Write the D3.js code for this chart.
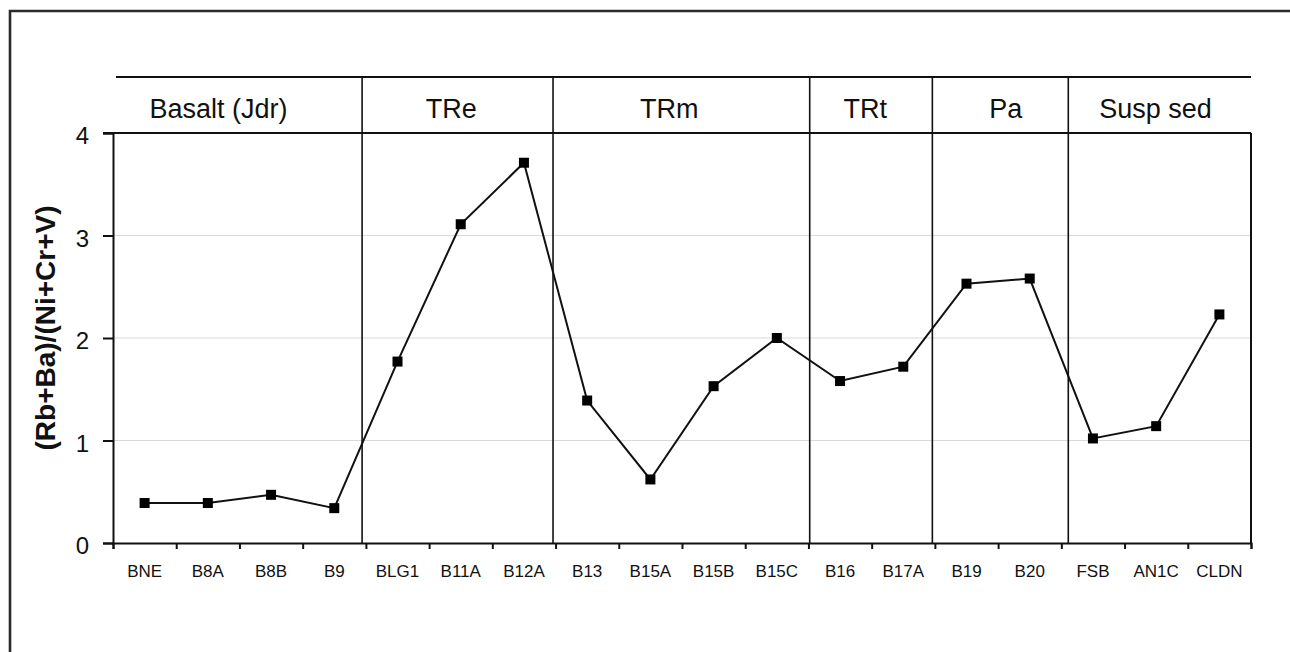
<!DOCTYPE html>
<html>
<head>
<meta charset="utf-8">
<script src="https://cdn.jsdelivr.net/npm/d3@7/dist/d3.min.js"></script>
<style>
  html, body { margin: 0; padding: 0; background: #fff; overflow: hidden; }
  svg { display: block; font-family: "Liberation Sans", Arial, sans-serif; }
</style>
</head>
<body>
<svg id="chart" width="1290" height="652"></svg>
<script>
// Samples, in order along the x axis
const categories = ["BNE", "B8A", "B8B", "B9", "BLG1", "B11A", "B12A", "B13", "B15A",
  "B15B", "B15C", "B16", "B17A", "B19", "B20", "FSB", "AN1C", "CLDN"];

// (Rb+Ba)/(Ni+Cr+V) ratio for each sample
const ratios = [0.39, 0.39, 0.47, 0.34, 1.77, 3.11, 3.71, 1.39, 0.62,
  1.53, 2.00, 1.58, 1.72, 2.53, 2.58, 1.02, 1.14, 2.23];

// Unit groups shown in the header band
const groupNames = ["Basalt (Jdr)", "TRe", "TRm", "TRt", "Pa", "Susp sed"];
// Label anchor of each group, in sample units from the left edge
const groupLabelAt = [1.67, 5.35, 8.8, 11.9, 14.12, 16.49];
// Vertical dividers between groups, in sample units from the left edge
const dividerAt = [3.94, 6.96, 11.02, 12.96, 15.11];

const yTicks = [0, 1, 2, 3, 4];
const yGrid = [1, 2, 3];

const svg = d3.select("#chart");

const plotLeft = 113, plotRight = 1251, plotTop = 133, plotBottom = 543, headerTop = 77;

const xPos = d3.scaleLinear().domain([0, categories.length]).range([plotLeft, plotRight]);
const xBand = d3.scaleBand().domain(categories).range([plotLeft, plotRight]);
const y = d3.scaleLinear().domain([0, 4]).range([plotBottom, plotTop]);

// Outer frame: top and left edges
svg.append("path")
  .attr("d", "M10,652 L10,11 L1290,11")
  .attr("fill", "none")
  .attr("stroke", "#2b2b2b")
  .attr("stroke-width", 2.6);

// Horizontal gridlines
svg.append("g")
  .selectAll("line")
  .data(yGrid)
  .join("line")
  .attr("x1", plotLeft).attr("x2", plotRight)
  .attr("y1", d => y(d)).attr("y2", d => y(d))
  .attr("stroke", "#d9d9d9")
  .attr("stroke-width", 1);

// Header band top line and plot top/right edges
svg.append("line")
  .attr("x1", 116).attr("x2", plotRight)
  .attr("y1", headerTop).attr("y2", headerTop)
  .attr("stroke", "#111").attr("stroke-width", 2);
svg.append("line")
  .attr("x1", plotLeft - 10).attr("x2", plotRight)
  .attr("y1", plotTop).attr("y2", plotTop)
  .attr("stroke", "#111").attr("stroke-width", 2);
svg.append("line")
  .attr("x1", plotRight).attr("x2", plotRight)
  .attr("y1", plotTop).attr("y2", plotBottom)
  .attr("stroke", "#111").attr("stroke-width", 2);

// Group dividers running through header and plot
svg.append("g")
  .selectAll("line")
  .data(dividerAt)
  .join("line")
  .attr("x1", d => xPos(d)).attr("x2", d => xPos(d))
  .attr("y1", headerTop).attr("y2", plotBottom)
  .attr("stroke", "#111").attr("stroke-width", 1.6);

// Group names
svg.append("g")
  .selectAll("text")
  .data(groupNames)
  .join("text")
  .attr("x", (d, i) => xPos(groupLabelAt[i]))
  .attr("y", 118)
  .attr("text-anchor", "middle")
  .attr("font-size", 27)
  .attr("fill", "#111")
  .text(d => d);

// Y axis
const yAxis = svg.append("g")
  .attr("transform", `translate(${plotLeft},0)`)
  .call(d3.axisLeft(y).tickValues(yTicks).tickSize(10).tickPadding(14).tickFormat(d3.format("d")));
yAxis.select(".domain").attr("stroke", "#111").attr("stroke-width", 2);
yAxis.selectAll(".tick line").attr("stroke", "#111").attr("stroke-width", 2);
yAxis.selectAll(".tick text")
  .attr("font-size", 24)
  .attr("font-family", "'Liberation Sans', Arial, sans-serif")
  .attr("fill", "#111")
  .attr("dy", "0.45em");

// X axis: ticks at sample boundaries
const xAxis = svg.append("g")
  .attr("transform", `translate(0,${plotBottom})`)
  .call(d3.axisBottom(xPos).tickValues(d3.range(categories.length + 1)).tickSize(6).tickFormat(""));
xAxis.select(".domain").attr("stroke", "#111").attr("stroke-width", 2);
xAxis.selectAll(".tick line").attr("stroke", "#111").attr("stroke-width", 2);

// X axis: sample names centred in each slot
const xLabels = svg.append("g")
  .attr("transform", `translate(0,${plotBottom})`)
  .call(d3.axisBottom(xBand).tickSize(0).tickPadding(22));
xLabels.select(".domain").remove();
xLabels.selectAll(".tick text")
  .attr("font-size", 17)
  .attr("font-family", "'Liberation Sans', Arial, sans-serif")
  .attr("fill", "#111");

// Y axis title
svg.append("text")
  .attr("transform", `translate(55,328) rotate(-90)`)
  .attr("text-anchor", "middle")
  .attr("font-size", 28)
  .attr("font-weight", "bold")
  .attr("fill", "#111")
  .text("(Rb+Ba)/(Ni+Cr+V)");

// Ratio line and markers
const pts = ratios.map((v, i) => ({ cat: categories[i], v }));
const line = d3.line()
  .x(d => xBand(d.cat) + xBand.bandwidth() / 2)
  .y(d => y(d.v));

svg.append("path")
  .datum(pts)
  .attr("d", line)
  .attr("fill", "none")
  .attr("stroke", "#111")
  .attr("stroke-width", 2);

const mk = 10;
svg.append("g")
  .selectAll("rect")
  .data(pts)
  .join("rect")
  .attr("x", d => xBand(d.cat) + xBand.bandwidth() / 2 - mk / 2)
  .attr("y", d => y(d.v) - mk / 2)
  .attr("width", mk).attr("height", mk)
  .attr("fill", "#000");
</script>
</body>
</html>
